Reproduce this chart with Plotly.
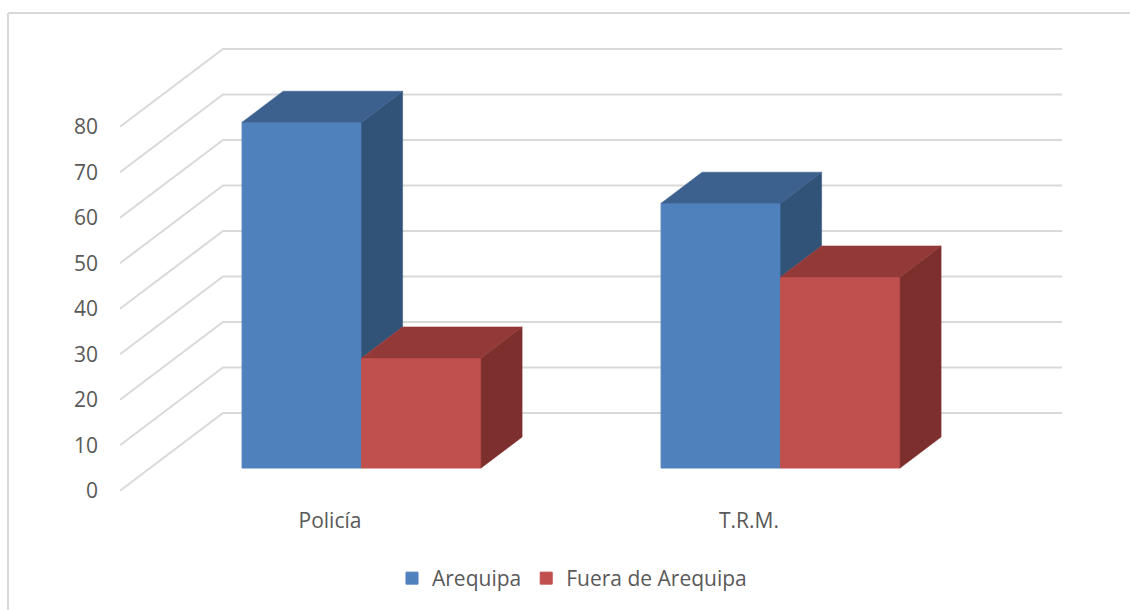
import plotly.graph_objects as go

categories = ["Policía", "T.R.M."]
series_names = ["Arequipa", "Fuera de Arequipa"]
arequipa = [76, 58.2]
fuera = [24.2, 42]
y_ticks = [0, 10, 20, 30, 40, 50, 60, 70, 80]

front_colors = ["#4F81BD", "#C0504D"]
top_colors = ["#3C618F", "#933A38"]
side_colors = ["#325378", "#7D2F2D"]
text_color = "#595959"
grid_color = "#D9D9D9"
FONT = "Open Sans"
FONT_SIZE = 21

W, H = 1130, 610
PL, PR, PT, PB = 104, 1070, 30, 506   # plot area, px
PX_PER_CAT = 419.0
PX_PER_UNIT = 4.55
X0_PX = 361.6        # boundary between the two bars of the first group
Y0_PX = 490.7        # pixel of value 0 on the front-left axis edge

x_range = [(PL - X0_PX) / PX_PER_CAT, (PR - X0_PX) / PX_PER_CAT]
y_range = [(Y0_PX - PB) / PX_PER_UNIT, (Y0_PX - PT) / PX_PER_UNIT]

BAR_W = 119.5 / PX_PER_CAT
FLOOR = (Y0_PX - 468) / PX_PER_UNIT          # bar bottoms
DX = 41 / PX_PER_CAT                         # bar depth, x
DY = 31 / PX_PER_UNIT                        # bar depth, y
WALL_DX = 103 / PX_PER_CAT
WALL_DY = (Y0_PX - 413) / PX_PER_UNIT
GRID_L = (120 - X0_PX) / PX_PER_CAT
GRID_R = (1062 - X0_PX) / PX_PER_CAT
LABEL_SHIFT = -0.0754

fig = go.Figure()

# front faces
xs = list(range(len(categories)))
fig.add_trace(go.Bar(x=[i - BAR_W / 2 for i in xs], y=arequipa, base=FLOOR, width=BAR_W,
                     name=series_names[0], marker=dict(color=front_colors[0], line=dict(color=front_colors[0], width=1))))
fig.add_trace(go.Bar(x=[i + BAR_W / 2 for i in xs], y=fuera, base=FLOOR, width=BAR_W,
                     name=series_names[1], marker=dict(color=front_colors[1], line=dict(color=front_colors[1], width=1))))


def face(px, py, color):
    fig.add_trace(go.Scatter(x=px + px[:1], y=py + py[:1], mode="lines", fill="toself",
                             fillcolor=color, line=dict(color=color, width=0.5),
                             showlegend=False, hoverinfo="skip"))


for i in xs:
    a, f = arequipa[i], fuera[i]
    xl, xm, xr = i - BAR_W, i, i + BAR_W
    # blue side: only the part not hidden by the red bar in front of it
    low = FLOOR + max(f, 0)
    face([xm, xm + DX, xm + DX, xm], [FLOOR + a, FLOOR + a + DY, low + DY, low], side_colors[0])
    # blue top
    face([xl, xl + DX, xm + DX, xm], [FLOOR + a, FLOOR + a + DY, FLOOR + a + DY, FLOOR + a], top_colors[0])
    # red side
    face([xr, xr + DX, xr + DX, xr], [FLOOR + f, FLOOR + f + DY, FLOOR + DY, FLOOR], side_colors[1])
    # red top
    face([xm, xm + DX, xr + DX, xr], [FLOOR + f, FLOOR + f + DY, FLOOR + f + DY, FLOOR + f], top_colors[1])

# 3D gridlines behind the bars
shapes = []
for v in y_ticks:
    path = (f"M {GRID_L} {v} L {GRID_L + WALL_DX} {v + WALL_DY} L {GRID_R} {v + WALL_DY}")
    shapes.append(dict(type="path", path=path, xref="x", yref="y", layer="below",
                       line=dict(color=grid_color, width=2)))

# outer chart frame: top and left edges
fx = lambda px: (px - PL) / (PR - PL)
fy = lambda py: (PB - py) / (PB - PT)
for x0, y0, x1, y1 in [(8, 13, W, 13), (8, 13, 8, H)]:
    shapes.append(dict(type="line", xref="paper", yref="paper", x0=fx(x0), y0=fy(y0), x1=fx(x1), y1=fy(y1),
                       layer="below", line=dict(color=grid_color, width=2)))

fig.update_layout(
    width=W, height=H,
    margin=dict(l=PL, r=W - PR, t=PT, b=H - PB, pad=0, autoexpand=False),
    paper_bgcolor="white", plot_bgcolor="rgba(0,0,0,0)",
    barmode="overlay", shapes=shapes,
    font=dict(family=FONT, size=FONT_SIZE, color=text_color),
    xaxis=dict(range=x_range, tickmode="array", tickvals=[i + LABEL_SHIFT for i in xs], ticktext=categories,
               showgrid=False, zeroline=False, showline=False, ticks="", automargin=False),
    yaxis=dict(range=y_range, tickmode="array", tickvals=y_ticks, ticktext=[str(v) for v in y_ticks],
               showgrid=False, zeroline=False, showline=False, ticks="", automargin=False, ticklabelstandoff=5),
    legend=dict(orientation="h", x=fx(392), xanchor="left", y=fy(558), yanchor="top",
                bgcolor="rgba(0,0,0,0)", traceorder="normal"),
    showlegend=True,
)

fig.write_html("out.html", post_script="document.body.style.margin='0';", config={"displayModeBar": False})
